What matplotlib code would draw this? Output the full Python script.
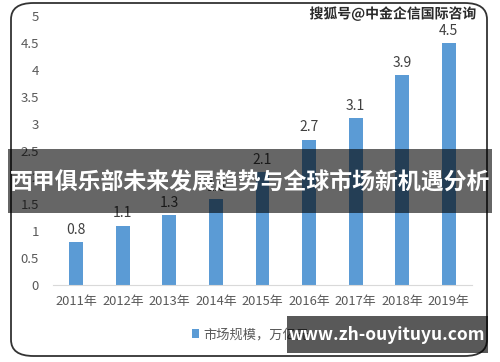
import matplotlib
matplotlib.use("Agg")
import matplotlib.pyplot as plt
from matplotlib.patches import FancyBboxPatch, Rectangle
import matplotlib.patheffects as pe

plt.rcParams["font.family"] = ["Noto Sans CJK SC", "DejaVu Sans"]

# ---- Data ----
years = ["2011年", "2012年", "2013年", "2014年", "2015年", "2016年", "2017年", "2018年", "2019年"]
market_size = [0.8, 1.1, 1.3, 1.6, 2.1, 2.7, 3.1, 3.9, 4.5]
y_ticks = [0, 0.5, 1, 1.5, 2, 2.5, 3, 3.5, 4, 4.5, 5]
y_tick_labels = ["0", "0.5", "1", "1.5", "2", "2.5", "3", "3.5", "4", "4.5", "5"]
legend_label = "市场规模，万亿元"
banner_title = "西甲俱乐部未来发展趋势与全球市场新机遇分析"
watermark = "搜狐号@中金企信国际咨询"
site_url = "www.zh-ouyituyu.com"

W, H = 500, 362
BAR_COLOR = "#5b9bd5"
TEXT_COLOR = "#595959"

fig = plt.figure(figsize=(W / 100, H / 100), dpi=100)
fig.patch.set_facecolor("white")


def fx(px):
    return px / W


def fy(py):
    return 1 - py / H


# rounded frame around the chart
frame = FancyBboxPatch((fx(11), fy(356)), fx(476), fy(3) - fy(356),
                       boxstyle="round,pad=0,rounding_size=0.045",
                       transform=fig.transFigure, facecolor="none",
                       edgecolor="#333333", linewidth=1.3, zorder=0)
fig.patches.append(frame)

ax = fig.add_axes([fx(53), fy(285), fx(472) - fx(53), fy(16) - fy(285)])
x = list(range(len(years)))
bars = ax.bar(x, market_size, width=0.3, color=BAR_COLOR, label=legend_label, zorder=2)
for xi, v in zip(x, market_size):
    ax.text(xi, v + 0.1, f"{v:g}", ha="center", va="bottom", fontsize=10, color="#404040")

ax.set_xlim(-0.5, len(years) - 0.5)
ax.set_ylim(0, 5)
ax.set_yticks(y_ticks)
ax.set_yticklabels(y_tick_labels)
ax.set_xticks(x)
ax.set_xticklabels(years)
ax.tick_params(axis="y", length=0, pad=10, labelsize=9.5, labelcolor=TEXT_COLOR)
ax.tick_params(axis="x", length=0, pad=7, labelsize=9.3, labelcolor=TEXT_COLOR)
for side in ["top", "right", "left"]:
    ax.spines[side].set_visible(False)
ax.spines["bottom"].set_color("#d9d9d9")
ax.set_facecolor("none")

ax.legend(loc="center", bbox_to_anchor=(0.5 + (fx(250) - fx(262)) / (fx(472) - fx(53)), -0.185),
          frameon=False, fontsize=9.5, handlelength=0.6, handleheight=0.6,
          handletextpad=0.3, labelcolor=TEXT_COLOR)

# watermark top right
fig.text(fx(476), fy(14), watermark, ha="right", va="center", fontsize=10,
         fontweight="bold", color="#2a2a2a",
         path_effects=[pe.withStroke(linewidth=2, foreground="white")])

# dark banner with title
fig.patches.append(Rectangle((fx(8), fy(213)), fx(484), fy(149) - fy(213),
                             transform=fig.transFigure, facecolor="black",
                             alpha=0.6, zorder=5))
fig.text(fx(250), fy(182), banner_title, ha="center", va="center",
         fontsize=16.5, fontweight="bold", color="white", zorder=6)

# site box bottom right
fig.patches.append(Rectangle((fx(287), fy(353)), fx(201), fy(316) - fy(353),
                             transform=fig.transFigure, facecolor="black",
                             alpha=0.65, zorder=5))
fig.text(fx(387), fy(335), site_url, ha="center", va="center",
         fontsize=12.5, fontweight="bold", color="white", zorder=6)

fig.savefig("out.png", dpi=100)
